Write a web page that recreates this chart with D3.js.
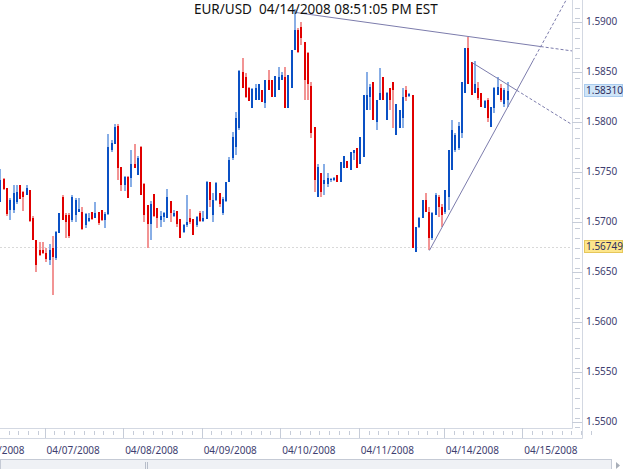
<!DOCTYPE html>
<html>
<head>
<meta charset="utf-8">
<script src="https://cdnjs.cloudflare.com/ajax/libs/d3/7.8.5/d3.min.js"></script>
<style>
  body { margin: 0; background: #fff; }
  svg { display: block; font-family: "Noto Sans", sans-serif; }
</style>
</head>
<body>
<script>
// hourly EUR/USD bars, bar index 0 = 04/07/2008 00:00
const firstBar = -14;

const open = [
  1.5719, 1.5743, 1.5734, 1.5712, 1.5712, 1.5719, 1.5736, 1.5730, 1.5727, 1.5732,
  1.5704, 1.5682, 1.5672, 1.5672, 1.5669, 1.5662, 1.5674, 1.5664, 1.5689, 1.5725,
  1.5707, 1.5707, 1.5702, 1.5707, 1.5710, 1.5710, 1.5696, 1.5701, 1.5710, 1.5704,
  1.5710, 1.5712, 1.5702, 1.5708, 1.5772, 1.5777, 1.5796, 1.5755, 1.5736, 1.5745,
  1.5744, 1.5757, 1.5747, 1.5775, 1.5737, 1.5716, 1.5697, 1.5728, 1.5714, 1.5702,
  1.5705, 1.5704, 1.5720, 1.5706, 1.5711, 1.5703, 1.5690, 1.5696, 1.5704, 1.5703,
  1.5696, 1.5709, 1.5701, 1.5703, 1.5739, 1.5707, 1.5722, 1.5729, 1.5709, 1.5720,
  1.5740, 1.5764, 1.5775, 1.5794, 1.5850, 1.5845, 1.5834, 1.5814, 1.5822, 1.5822,
  1.5832, 1.5818, 1.5842, 1.5842, 1.5825, 1.5832, 1.5842, 1.5845, 1.5814, 1.5834,
  1.5872, 1.5892, 1.5895, 1.5879, 1.5869, 1.5836, 1.5795, 1.5725, 1.5749, 1.5737,
  1.5737, 1.5742, 1.5742, 1.5747, 1.5739, 1.5754, 1.5760, 1.5752, 1.5769, 1.5774,
  1.5757, 1.5765, 1.5812, 1.5825, 1.5840, 1.5800, 1.5822, 1.5845, 1.5802, 1.5834,
  1.5840, 1.5787, 1.5794, 1.5804, 1.5832, 1.5826, 1.5827, 1.5670, 1.5695, 1.5704,
  1.5722, 1.5710, 1.5684, 1.5707, 1.5725, 1.5715, 1.5710, 1.5725, 1.5752, 1.5772,
  1.5774, 1.5789, 1.5829, 1.5874, 1.5859, 1.5829, 1.5834, 1.5829, 1.5814, 1.5822,
  1.5795, 1.5814, 1.5827, 1.5834, 1.5817, 1.5822
];
const high = [
  1.5753, 1.5744, 1.5734, 1.5724, 1.5736, 1.5736, 1.5736, 1.5731, 1.5736, 1.5732,
  1.5706, 1.5682, 1.5679, 1.5679, 1.5674, 1.5677, 1.5686, 1.5691, 1.5709, 1.5727,
  1.5709, 1.5709, 1.5727, 1.5724, 1.5724, 1.5715, 1.5709, 1.5709, 1.5710, 1.5719,
  1.5710, 1.5712, 1.5710, 1.5788, 1.5782, 1.5797, 1.5797, 1.5755, 1.5746, 1.5746,
  1.5772, 1.5777, 1.5766, 1.5776, 1.5738, 1.5716, 1.5720, 1.5728, 1.5714, 1.5711,
  1.5710, 1.5733, 1.5720, 1.5712, 1.5711, 1.5703, 1.5697, 1.5727, 1.5713, 1.5703,
  1.5706, 1.5711, 1.5711, 1.5741, 1.5739, 1.5729, 1.5740, 1.5729, 1.5725, 1.5740,
  1.5765, 1.5790, 1.5810, 1.5852, 1.5864, 1.5849, 1.5835, 1.5834, 1.5837, 1.5837,
  1.5832, 1.5842, 1.5852, 1.5842, 1.5846, 1.5855, 1.5850, 1.5855, 1.5847, 1.5872,
  1.5913, 1.5894, 1.5900, 1.5879, 1.5870, 1.5839, 1.5795, 1.5757, 1.5749, 1.5757,
  1.5749, 1.5744, 1.5745, 1.5747, 1.5759, 1.5766, 1.5760, 1.5770, 1.5772, 1.5774,
  1.5785, 1.5827, 1.5850, 1.5837, 1.5840, 1.5822, 1.5854, 1.5845, 1.5830, 1.5834,
  1.5840, 1.5817, 1.5812, 1.5834, 1.5836, 1.5829, 1.5827, 1.5695, 1.5705, 1.5722,
  1.5729, 1.5715, 1.5710, 1.5729, 1.5727, 1.5717, 1.5732, 1.5772, 1.5802, 1.5789,
  1.5799, 1.5840, 1.5874, 1.5885, 1.5859, 1.5860, 1.5839, 1.5829, 1.5822, 1.5824,
  1.5815, 1.5835, 1.5845, 1.5837, 1.5834, 1.5839
];
const low = [
  1.5719, 1.5732, 1.5706, 1.5702, 1.5709, 1.5717, 1.5723, 1.5711, 1.5727, 1.5700,
  1.5682, 1.5650, 1.5666, 1.5668, 1.5660, 1.5656, 1.5627, 1.5662, 1.5689, 1.5702,
  1.5684, 1.5684, 1.5700, 1.5699, 1.5710, 1.5692, 1.5694, 1.5700, 1.5702, 1.5704,
  1.5696, 1.5701, 1.5694, 1.5707, 1.5770, 1.5777, 1.5742, 1.5731, 1.5731, 1.5724,
  1.5735, 1.5754, 1.5747, 1.5727, 1.5699, 1.5674, 1.5682, 1.5705, 1.5694, 1.5695,
  1.5699, 1.5704, 1.5699, 1.5705, 1.5695, 1.5684, 1.5689, 1.5695, 1.5697, 1.5687,
  1.5695, 1.5699, 1.5700, 1.5703, 1.5715, 1.5700, 1.5720, 1.5715, 1.5707, 1.5719,
  1.5740, 1.5762, 1.5767, 1.5792, 1.5834, 1.5824, 1.5820, 1.5814, 1.5822, 1.5822,
  1.5819, 1.5814, 1.5832, 1.5825, 1.5825, 1.5832, 1.5842, 1.5814, 1.5814, 1.5834,
  1.5872, 1.5869, 1.5877, 1.5822, 1.5822, 1.5784, 1.5730, 1.5725, 1.5725, 1.5727,
  1.5735, 1.5740, 1.5741, 1.5739, 1.5739, 1.5754, 1.5754, 1.5752, 1.5762, 1.5754,
  1.5757, 1.5765, 1.5812, 1.5812, 1.5802, 1.5792, 1.5822, 1.5822, 1.5802, 1.5812,
  1.5794, 1.5787, 1.5794, 1.5794, 1.5820, 1.5825, 1.5674, 1.5670, 1.5694, 1.5704,
  1.5710, 1.5672, 1.5682, 1.5707, 1.5705, 1.5695, 1.5708, 1.5712, 1.5752, 1.5770,
  1.5772, 1.5784, 1.5829, 1.5837, 1.5827, 1.5829, 1.5822, 1.5815, 1.5814, 1.5800,
  1.5795, 1.5809, 1.5827, 1.5819, 1.5815, 1.5815
];
const close = [
  1.5742, 1.5733, 1.5708, 1.5722, 1.5729, 1.5730, 1.5723, 1.5725, 1.5734, 1.5701,
  1.5682, 1.5656, 1.5667, 1.5669, 1.5663, 1.5672, 1.5665, 1.5690, 1.5709, 1.5702,
  1.5699, 1.5686, 1.5725, 1.5722, 1.5713, 1.5693, 1.5708, 1.5704, 1.5703, 1.5709,
  1.5698, 1.5702, 1.5708, 1.5775, 1.5778, 1.5795, 1.5754, 1.5736, 1.5745, 1.5724,
  1.5757, 1.5754, 1.5764, 1.5727, 1.5707, 1.5697, 1.5717, 1.5706, 1.5704, 1.5706,
  1.5709, 1.5725, 1.5709, 1.5709, 1.5697, 1.5684, 1.5696, 1.5700, 1.5700, 1.5687,
  1.5705, 1.5701, 1.5704, 1.5739, 1.5722, 1.5722, 1.5738, 1.5717, 1.5723, 1.5739,
  1.5762, 1.5785, 1.5804, 1.5851, 1.5834, 1.5825, 1.5820, 1.5833, 1.5834, 1.5837,
  1.5819, 1.5842, 1.5832, 1.5825, 1.5846, 1.5845, 1.5847, 1.5814, 1.5847, 1.5872,
  1.5892, 1.5870, 1.5884, 1.5842, 1.5837, 1.5789, 1.5742, 1.5755, 1.5730, 1.5742,
  1.5744, 1.5743, 1.5744, 1.5739, 1.5759, 1.5766, 1.5754, 1.5770, 1.5772, 1.5754,
  1.5785, 1.5827, 1.5827, 1.5835, 1.5802, 1.5822, 1.5829, 1.5822, 1.5829, 1.5822,
  1.5832, 1.5817, 1.5812, 1.5825, 1.5825, 1.5828, 1.5674, 1.5695, 1.5704, 1.5722,
  1.5710, 1.5684, 1.5709, 1.5727, 1.5715, 1.5707, 1.5732, 1.5772, 1.5792, 1.5787,
  1.5796, 1.5840, 1.5874, 1.5837, 1.5827, 1.5837, 1.5824, 1.5815, 1.5820, 1.5804,
  1.5815, 1.5834, 1.5835, 1.5822, 1.5832, 1.5831
];

// day separators (bar index where each day starts)
const dayLabels = ["04/04/2008", "04/07/2008", "04/08/2008", "04/09/2008",
                   "04/10/2008", "04/11/2008", "04/14/2008", "04/15/2008"];
const dayStart = [-23, 0, 24, 48, 72, 96, 122, 146];

const priceTicks = [1.5500, 1.5550, 1.5600, 1.5650, 1.5700, 1.5750, 1.5800, 1.5850, 1.5900];
const lastPrice = 1.58310;
const markPrice = 1.56749;

// trend lines as [bar index, price] anchors
const trendTop = [[76.8, 1.5909], [129.5, 1.5885]];
const trendRise = [[117.6, 1.5671], [149.3, 1.5861]];
const trendSmall = [[130.6, 1.5859], [144.4, 1.5831]];

const title = "EUR/USD  04/14/2008 08:51:05 PM EST";

const width = 625, height = 469;
const plotR = 572, plotB = 428, bandR = 582, bandB = 438;

let x = d3.scaleLinear()
    .domain([0, 24])
    .range([44.6, 44.6 + 24 * 3.272]);

let y = d3.scaleLinear()
    .domain([1.5500, 1.5900])
    .range([421.5, 21.5]);

let svg = d3.select("body").append("svg")
    .attr("width", width)
    .attr("height", height);

svg.append("defs").append("clipPath")
    .attr("id", "plotClip")
  .append("rect")
    .attr("width", plotR)
    .attr("height", plotB);

// frame lines of plot and tick bands
let frame = svg.append("g").attr("stroke", "#d3d8e2").attr("fill", "none");
frame.append("path").attr("d", `M${plotR + 0.5},0V${plotB + 0.5}H0`);
frame.append("path").attr("d", `M${bandR + 0.5},0V${bandB + 0.5}H0`);

// horizontal dashed reference line
svg.append("line")
    .attr("x1", 0).attr("x2", plotR)
    .attr("y1", Math.round(y(markPrice)) + 0.5).attr("y2", Math.round(y(markPrice)) + 0.5)
    .attr("stroke", "#d9d9d9")
    .attr("stroke-dasharray", "2,2");

let bars = open.map((o, i) => ({ i: firstBar + i, o: o, h: high[i], l: low[i], c: close[i] }));

let g = svg.append("g").attr("clip-path", "url(#plotClip)");

g.selectAll(".wick")
  .data(bars)
  .enter().append("rect")
    .attr("class", "wick")
    .attr("x", d => Math.round(x(d.i + 0.5)) - 1)
    .attr("width", 2)
    .attr("y", d => Math.round(y(d.h)))
    .attr("height", d => Math.max(1, Math.round(y(d.l)) - Math.round(y(d.h))))
    .attr("fill", d => d.c >= d.o ? "#88aee6" : "#f29494");

g.selectAll(".body")
  .data(bars)
  .enter().append("rect")
    .attr("class", "body")
    .attr("x", d => Math.round(x(d.i + 0.5)) - 1)
    .attr("width", 2)
    .attr("y", d => Math.round(y(Math.max(d.o, d.c))))
    .attr("height", d => Math.max(1, Math.round(y(Math.min(d.o, d.c))) - Math.round(y(Math.max(d.o, d.c)))))
    .attr("fill", d => d.c >= d.o ? "#0a50c4" : "#e00000");

// trend lines
let priceAt = function(t, i) {
  let k = (t[1][1] - t[0][1]) / (t[1][0] - t[0][0]);
  return t[0][1] + (i - t[0][0]) * k;
};
let crossing = function(a, b) {
  let ka = (a[1][1] - a[0][1]) / (a[1][0] - a[0][0]);
  let kb = (b[1][1] - b[0][1]) / (b[1][0] - b[0][0]);
  return (priceAt(b, 0) - priceAt(a, 0)) / (ka - kb);
};
let rightIdx = x.invert(plotR);

let segs = [];
let iTop = crossing(trendTop, trendRise);
segs.push({ t: trendTop, a: trendTop[0][0], b: iTop, dash: null });
segs.push({ t: trendTop, a: iTop, b: rightIdx, dash: "3,2" });
segs.push({ t: trendRise, a: trendRise[0][0], b: trendRise[1][0], dash: null });
segs.push({ t: trendRise, a: trendRise[1][0], b: rightIdx, dash: "3,2" });
let iSmall = crossing(trendSmall, trendRise);
segs.push({ t: trendSmall, a: trendSmall[0][0], b: iSmall, dash: null });
segs.push({ t: trendSmall, a: iSmall, b: rightIdx, dash: "3,2" });

g.selectAll(".trend")
  .data(segs)
  .enter().append("line")
    .attr("class", "trend")
    .attr("x1", d => x(d.a)).attr("y1", d => y(priceAt(d.t, d.a)))
    .attr("x2", d => x(d.b)).attr("y2", d => y(priceAt(d.t, d.b)))
    .attr("stroke", "#7c7cac")
    .attr("stroke-width", 1)
    .attr("stroke-dasharray", d => d.dash);

// price axis ticks
let minorY = d3.range(15494, 15922, 10).map(v => v / 10000);
svg.append("g").selectAll("line")
  .data(minorY)
  .enter().append("line")
    .attr("x1", plotR + 3).attr("x2", plotR + 8)
    .attr("y1", d => Math.round(y(d)) + 0.5).attr("y2", d => Math.round(y(d)) + 0.5)
    .attr("stroke", "#c6ccd8");
svg.append("g").selectAll("line")
  .data(priceTicks)
  .enter().append("line")
    .attr("x1", plotR).attr("x2", bandR)
    .attr("y1", d => Math.round(y(d)) + 0.5).attr("y2", d => Math.round(y(d)) + 0.5)
    .attr("stroke", "#c6ccd8");
svg.append("g").selectAll("text")
  .data(priceTicks)
  .enter().append("text")
    .attr("x", 586)
    .attr("y", d => y(d) + 3.5)
    .attr("font-size", "10px")
    .attr("fill", "#3e3e70")
    .text(d => d.toFixed(4));

// highlighted price labels
let tags = [{ v: lastPrice, fill: "#cfe5f8", stroke: "#a9cbee" },
            { v: markPrice, fill: "#fde68c", stroke: "#e6c75a" }];
let tag = svg.append("g").selectAll("g")
  .data(tags)
  .enter().append("g");
tag.append("rect")
    .attr("x", 584.5).attr("width", 38)
    .attr("y", d => Math.round(y(d.v)) - 6.5).attr("height", 12)
    .attr("fill", d => d.fill).attr("stroke", d => d.stroke);
tag.append("text")
    .attr("x", 586)
    .attr("y", d => y(d.v) + 3.5)
    .attr("font-size", "10px")
    .attr("fill", "#2e2e60")
    .text(d => d.v.toFixed(5));

// time axis ticks
let minorX = [];
dayStart.forEach(function(s, j) {
  let e = j < dayStart.length - 1 ? dayStart[j + 1] : s + 24;
  for (let t = s + 3; t < e - 1; t += 3) minorX.push(t);
});
svg.append("g").selectAll("line")
  .data(minorX)
  .enter().append("line")
    .attr("x1", d => Math.round(x(d)) + 0.5).attr("x2", d => Math.round(x(d)) + 0.5)
    .attr("y1", plotB + 3).attr("y2", plotB + 7)
    .attr("stroke", "#c6ccd8");
svg.append("g").selectAll("line")
  .data(dayStart)
  .enter().append("line")
    .attr("x1", d => Math.round(x(d)) + 0.5).attr("x2", d => Math.round(x(d)) + 0.5)
    .attr("y1", plotB).attr("y2", bandB)
    .attr("stroke", "#c6ccd8");
svg.append("g").selectAll("text")
  .data(dayStart)
  .enter().append("text")
    .attr("x", d => x(d) + 2)
    .attr("y", 454)
    .attr("font-size", "10px")
    .attr("fill", "#3e3e70")
    .text((d, i) => dayLabels[i]);

// title
svg.append("text")
    .attr("x", 194)
    .attr("y", 14)
    .attr("font-size", "13.5px")
    .attr("fill", "#111")
    .style("white-space", "pre")
    .text(title);

// scrollbar
let sb = svg.append("g");
sb.append("rect")
    .attr("x", 0.5).attr("y", 459.5).attr("width", 611).attr("height", 14)
    .attr("fill", "#eff1f5").attr("stroke", "#c5cad5");
sb.append("path")
    .attr("d", "M145.5,462V469M147.5,462V469")
    .attr("stroke", "#b7bdc9");
sb.append("path")
    .attr("d", "M616,462L620,465.5L616,469Z")
    .attr("fill", "#a8aeb8");
</script>
</body>
</html>
